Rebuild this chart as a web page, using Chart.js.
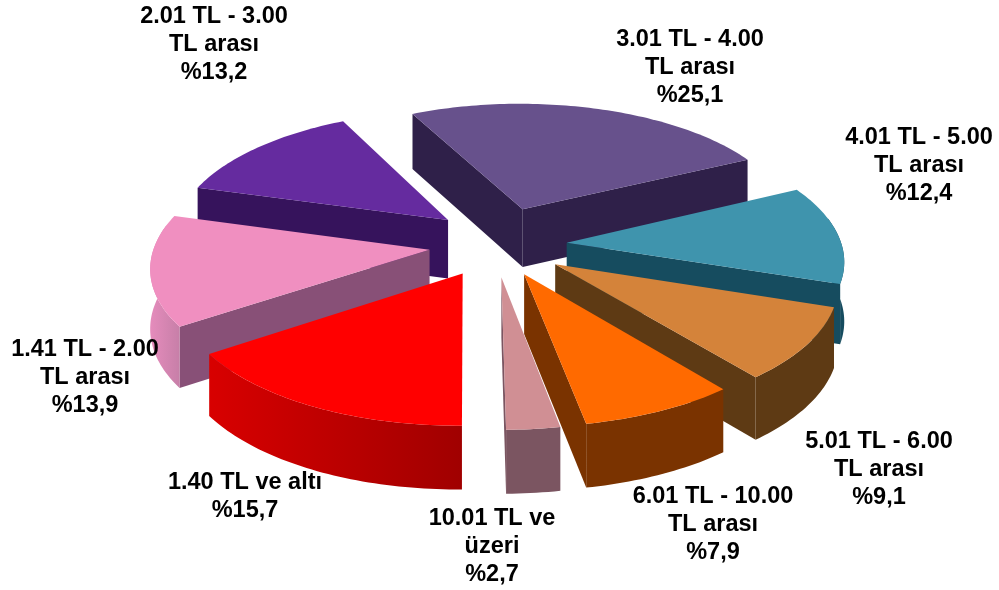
<!DOCTYPE html>
<html>
<head>
<meta charset="utf-8">
<title>Fiyat dağılımı</title>
<script src="https://cdn.jsdelivr.net/npm/chart.js@4"></script>
<style>
  html, body { margin: 0; padding: 0; background: #fff; }
  canvas { display: block; }
</style>
</head>
<body>
<canvas id="pie" width="999" height="590"></canvas>
<script>
const categories = [
  ["3.01 TL - 4.00", "TL arası"],
  ["4.01 TL - 5.00", "TL arası"],
  ["5.01 TL - 6.00", "TL arası"],
  ["6.01 TL - 10.00", "TL arası"],
  ["10.01 TL ve", "üzeri"],
  ["1.40 TL ve altı"],
  ["1.41 TL - 2.00", "TL arası"],
  ["2.01 TL - 3.00", "TL arası"],
];
const values = [25.1, 12.4, 9.1, 7.9, 2.7, 15.7, 13.9, 13.2];

// styles, same order as the values
const topColors = ["#67518c", "#3f94ad", "#d4833a", "#ff6a00", "#d08f94", "#ff0000", "#f08fc0", "#652b9f"];
const cutColors = ["#2f2049", "#164c5f", "#5e3a14", "#7a3300", "#7b5561", "#a80000", "#885077", "#36135c"];
const outerLeft = ["#2f2049", "#164c5f", "#5e3a14", "#7a3300", "#7b5561", "#d80000", "#e58cbc", "#36135c"];
const outerRight = ["#2f2049", "#164c5f", "#5e3a14", "#7a3300", "#7b5561", "#a00000", "#c77fa8", "#36135c"];
const explode = [90, 72, 72, 68, 64, 68, 66, 62];
const lift = [2, 0, 0, 0, 2, 0, 0, -7];
const labelCenters = [[690, 40], [919, 138], [879, 442], [713, 497], [492, 519], [245, 483], [85, 350], [214, 17]];

const SQUASH = 0.46;   // tilt of the pie plane
const PERSP = 0.12;    // front gets bigger, back gets smaller
const DEPTH = 59;      // wall height

function shade3d(chart) {
  const ctx = chart.ctx;
  const arcs = chart.getDatasetMeta(0).data;
  const order = arcs.map((a, i) => i).sort((a, b) => {
    const ma = (arcs[a].startAngle + arcs[a].endAngle) / 2;
    const mb = (arcs[b].startAngle + arcs[b].endAngle) / 2;
    return Math.sin(ma) - Math.sin(mb);
  });
  const poly = (pts, color) => {
    ctx.beginPath();
    pts.forEach((p, i) => (i ? ctx.lineTo(p[0], p[1]) : ctx.moveTo(p[0], p[1])));
    ctx.closePath();
    ctx.fillStyle = color;
    ctx.fill();
  };
  order.forEach((i) => {
    const arc = arcs[i];
    const R = arc.outerRadius;
    const project = (p, z) => {
      const w = 1 / (1 - PERSP * p[1] / R);
      return [arc.x + p[0] * w, arc.y + lift[i] + p[1] * SQUASH * w + z * Math.sqrt(w)];
    };
    const mid = (arc.startAngle + arc.endAngle) / 2;
    const off = arc.options.offset;
    const apex = [Math.cos(mid) * off, Math.sin(mid) * off];
    const steps = Math.ceil((arc.endAngle - arc.startAngle) / 0.02);
    const rim = [];
    const front = [];
    for (let s = 0; s <= steps; s++) {
      const a = arc.startAngle + (arc.endAngle - arc.startAngle) * s / steps;
      const p = [apex[0] + Math.cos(a) * R, apex[1] + Math.sin(a) * R];
      rim.push(p);
      if (Math.sin(a) >= -0.2) front.push(p);
    }
    // cut faces, only the ones turned towards the viewer
    const cut = (p, normal) => {
      if (Math.sin(normal) <= 0) return;
      poly([project(apex, 0), project(p, 0), project(p, DEPTH), project(apex, DEPTH)], cutColors[i]);
    };
    cut(rim[0], arc.startAngle - Math.PI / 2);
    cut(rim[steps], arc.endAngle + Math.PI / 2);
    // outer wall
    if (front.length > 1) {
      const pts = [...front.map((p) => project(p, 0)), ...front.slice().reverse().map((p) => project(p, DEPTH))];
      const xs = pts.map((p) => p[0]);
      const grad = ctx.createLinearGradient(Math.min(...xs), 0, Math.max(...xs), 0);
      grad.addColorStop(0, outerLeft[i]);
      grad.addColorStop(1, outerRight[i]);
      poly(pts, grad);
    }
    poly([apex, ...rim].map((p) => project(p, 0)), topColors[i]);
  });
}

const pie3d = {
  id: "pie3d",
  beforeDatasetsDraw(chart) {
    shade3d(chart);
    return false;
  },
  afterDraw(chart) {
    const ctx = chart.ctx;
    ctx.save();
    ctx.fillStyle = "#000";
    ctx.font = "bold 23.5px 'Liberation Sans', Arial, sans-serif";
    ctx.textAlign = "center";
    ctx.textBaseline = "middle";
    categories.forEach((lines, i) => {
      const all = [...lines, "%" + String(values[i]).replace(".", ",")];
      all.forEach((t, l) => ctx.fillText(t, labelCenters[i][0], labelCenters[i][1] + l * 28));
    });
    ctx.restore();
  },
};

new Chart(document.getElementById("pie"), {
  type: "pie",
  data: {
    labels: categories.map((c) => c.join(" ")),
    datasets: [{ data: values, backgroundColor: topColors, offset: explode, borderWidth: 0 }],
  },
  options: {
    responsive: false,
    animation: false,
    radius: 275,
    rotation: -26.6,
    layout: { padding: { right: 9, bottom: 100 } },
    plugins: { legend: { display: false }, tooltip: { enabled: false } },
  },
  plugins: [pie3d],
});
</script>
</body>
</html>
